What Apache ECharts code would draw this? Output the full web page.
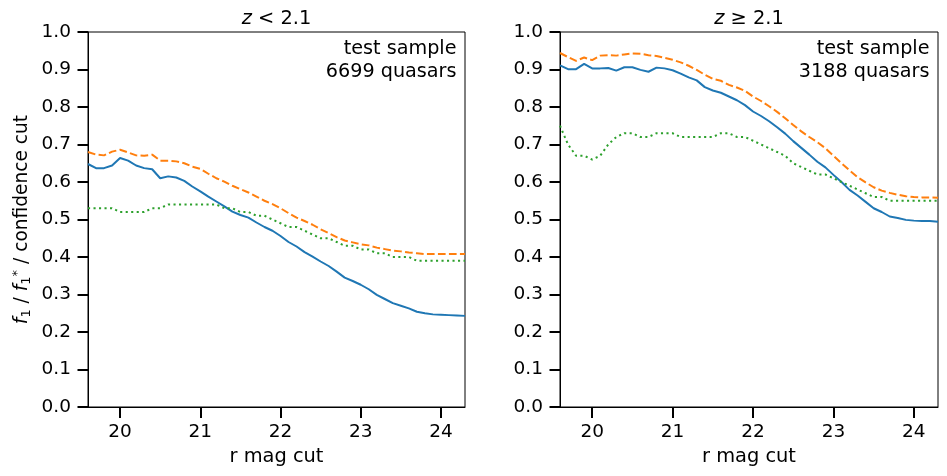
<!DOCTYPE html>
<html>
<head>
<meta charset="utf-8">
<script src="https://cdn.jsdelivr.net/npm/echarts@6/dist/echarts.min.js"></script>
<style>
html, body { margin: 0; padding: 0; background: #fff; }
#chart { width: 947px; height: 476px; }
</style>
</head>
<body>
<div id="chart"></div>
<script>
// r magnitude cut (x values, shared by both panels)
var rMag = [19.6, 19.7, 19.8, 19.9, 20.0, 20.1, 20.2, 20.3, 20.4, 20.5,
            20.6, 20.7, 20.8, 20.9, 21.0, 21.1, 21.2, 21.3, 21.4, 21.5,
            21.6, 21.7, 21.8, 21.9, 22.0, 22.1, 22.2, 22.3, 22.4, 22.5,
            22.6, 22.7, 22.8, 22.9, 23.0, 23.1, 23.2, 23.3, 23.4, 23.5,
            23.6, 23.7, 23.8, 23.9, 24.0, 24.1, 24.2, 24.3];

var xTicks = [20, 21, 22, 23, 24];

// z < 2.1
var lowF1 = [0.648, 0.637, 0.637, 0.644, 0.664, 0.657, 0.644, 0.637, 0.634, 0.610,
             0.615, 0.612, 0.603, 0.588, 0.575, 0.561, 0.548, 0.535, 0.521, 0.512,
             0.505, 0.492, 0.480, 0.470, 0.456, 0.440, 0.428, 0.413, 0.401, 0.388,
             0.376, 0.361, 0.345, 0.336, 0.326, 0.314, 0.299, 0.288, 0.277, 0.270,
             0.263, 0.254, 0.250, 0.247, 0.246, 0.245, 0.244, 0.243];
var lowF1Star = [0.680, 0.673, 0.671, 0.681, 0.686, 0.679, 0.671, 0.670, 0.673, 0.657,
                 0.657, 0.655, 0.650, 0.641, 0.635, 0.622, 0.610, 0.601, 0.590, 0.581,
                 0.572, 0.561, 0.550, 0.541, 0.530, 0.517, 0.505, 0.496, 0.486, 0.474,
                 0.464, 0.453, 0.444, 0.439, 0.434, 0.431, 0.425, 0.421, 0.417, 0.415,
                 0.412, 0.410, 0.408, 0.408, 0.408, 0.408, 0.408, 0.408];
var lowCut = [0.53, 0.53, 0.53, 0.53, 0.52, 0.52, 0.52, 0.52, 0.53, 0.53,
              0.54, 0.54, 0.54, 0.54, 0.54, 0.54, 0.54, 0.53, 0.53, 0.52,
              0.52, 0.51, 0.51, 0.50, 0.49, 0.48, 0.48, 0.47, 0.46, 0.45,
              0.45, 0.44, 0.43, 0.43, 0.42, 0.42, 0.41, 0.41, 0.40, 0.40,
              0.40, 0.39, 0.39, 0.39, 0.39, 0.39, 0.39, 0.39];

// z >= 2.1
var highF1 = [0.911, 0.901, 0.901, 0.915, 0.903, 0.903, 0.904, 0.897, 0.906, 0.906,
              0.899, 0.894, 0.905, 0.903, 0.898, 0.889, 0.879, 0.871, 0.853, 0.844,
              0.838, 0.828, 0.818, 0.805, 0.788, 0.776, 0.762, 0.746, 0.729, 0.709,
              0.691, 0.673, 0.654, 0.639, 0.619, 0.600, 0.579, 0.564, 0.547, 0.530,
              0.520, 0.508, 0.504, 0.499, 0.497, 0.496, 0.496, 0.494];
var highF1Star = [0.944, 0.933, 0.923, 0.932, 0.925, 0.937, 0.938, 0.937, 0.940, 0.943,
                  0.942, 0.938, 0.936, 0.931, 0.926, 0.919, 0.910, 0.899, 0.886, 0.875,
                  0.870, 0.859, 0.852, 0.843, 0.828, 0.816, 0.802, 0.787, 0.770, 0.752,
                  0.735, 0.720, 0.706, 0.690, 0.670, 0.650, 0.631, 0.613, 0.599, 0.586,
                  0.577, 0.571, 0.566, 0.562, 0.560, 0.559, 0.559, 0.558];
var highCut = [0.75, 0.70, 0.67, 0.67, 0.66, 0.67, 0.70, 0.72, 0.73, 0.73,
               0.72, 0.72, 0.73, 0.73, 0.73, 0.72, 0.72, 0.72, 0.72, 0.72,
               0.73, 0.73, 0.72, 0.72, 0.71, 0.70, 0.69, 0.68, 0.67, 0.65,
               0.64, 0.63, 0.62, 0.62, 0.61, 0.60, 0.59, 0.58, 0.57, 0.56,
               0.56, 0.55, 0.55, 0.55, 0.55, 0.55, 0.55, 0.55];

var panelTitles = ['{it|z}{n| < 2.1}', '{it|z}{n| \u2265 2.1}'];
var sampleNotes = ['test sample\n6699 quasars', 'test sample\n3188 quasars'];

var FONT = 'DejaVu Sans';
var TICK_FS = 18.5;
var LABEL_FS = 19.4;
var YLABEL_FS = 18.6;
var grids = [
  { left: 88, top: 32, width: 377, height: 375 },
  { left: 560, top: 32, width: 378, height: 375 }
];

function pairs(ys) {
  return rMag.map(function (x, i) { return [x, ys[i]]; });
}

function xAxisFor(i) {
  return {
    type: 'value', gridIndex: i, min: 19.6, max: 24.3,
    name: 'r mag cut', nameLocation: 'middle', nameGap: 40,
    nameTextStyle: { fontSize: LABEL_FS, color: '#000', fontFamily: FONT },
    axisLine: { show: true, onZero: false, lineStyle: { color: '#000', width: 1 } },
    axisTick: { show: true, length: 11, customValues: xTicks, lineStyle: { color: '#000', width: 2 } },
    axisLabel: { customValues: xTicks, fontSize: TICK_FS, color: '#000', fontFamily: FONT, margin: 16 },
    splitLine: { show: false }
  };
}

function yAxisFor(i) {
  var ax = {
    type: 'value', gridIndex: i, min: 0, max: 1, interval: 0.1,
    axisLine: { show: true, onZero: false, lineStyle: { color: '#000', width: 1 } },
    axisTick: { show: true, length: 10.5, lineStyle: { color: '#000', width: 2 } },
    axisLabel: {
      fontSize: TICK_FS, color: '#000', fontFamily: FONT, margin: 17,
      formatter: function (v) { return v.toFixed(1); }
    },
    splitLine: { show: false }
  };
  if (i === 0) {
    ax.name = '{it|f}{sub|1}{n| / }{it|f}{sub|1}{sup|*}{n| / confidence cut}';
    ax.nameLocation = 'middle';
    ax.nameRotate = 90;
    ax.nameGap = 55;
    ax.nameTextStyle = {
      fontSize: YLABEL_FS, color: '#000', fontFamily: FONT, lineHeight: 22,
      rich: {
        n: { fontSize: YLABEL_FS, fontFamily: FONT, color: '#000', lineHeight: 22 },
        it: { fontStyle: 'italic', fontSize: YLABEL_FS, fontFamily: FONT, color: '#000', lineHeight: 22 },
        sub: { fontSize: 13, fontFamily: FONT, color: '#000', lineHeight: 15, verticalAlign: 'bottom' },
        sup: { fontSize: 13, fontFamily: FONT, color: '#000', lineHeight: 15, verticalAlign: 'top' }
      }
    };
  }
  return ax;
}

function lineSeries(i, ys, color, dash) {
  return {
    type: 'line', xAxisIndex: i, yAxisIndex: i,
    data: pairs(ys), showSymbol: false, symbol: 'none',
    animation: false,
    lineStyle: { color: color, width: 2, type: dash }
  };
}

var graphics = [];
grids.forEach(function (g, i) {
  graphics.push({
    type: 'text',
    x: g.left + g.width / 2, y: 18.6,
    style: {
      text: panelTitles[i], align: 'center', verticalAlign: 'middle',
      font: LABEL_FS + 'px ' + FONT, fill: '#000',
      rich: {
        it: { font: 'italic ' + LABEL_FS + 'px ' + FONT, fill: '#000' },
        n: { font: LABEL_FS + 'px ' + FONT, fill: '#000' }
      }
    }
  });
  graphics.push({
    type: 'text',
    x: g.left + g.width - 8.5, y: 37.5,
    style: {
      text: sampleNotes[i], align: 'right', verticalAlign: 'top',
      font: '19.2px ' + FONT, lineHeight: 23.3, fill: '#000'
    }
  });
});

var chart = echarts.init(document.getElementById('chart'), null, { renderer: 'canvas' });
chart.setOption({
  animation: false,
  backgroundColor: '#fff',
  textStyle: { fontFamily: FONT },
  grid: grids.map(function (g) {
    return { left: g.left, top: g.top, width: g.width, height: g.height,
             show: true, borderColor: '#000', borderWidth: 1, backgroundColor: 'transparent' };
  }),
  xAxis: [xAxisFor(0), xAxisFor(1)],
  yAxis: [yAxisFor(0), yAxisFor(1)],
  series: [
    lineSeries(0, lowF1, '#1f77b4', 'solid'),
    lineSeries(0, lowF1Star, '#ff7f0e', [7.7, 3.3]),
    lineSeries(0, lowCut, '#2ca02c', [2.1, 3.4]),
    lineSeries(1, highF1, '#1f77b4', 'solid'),
    lineSeries(1, highF1Star, '#ff7f0e', [7.7, 3.3]),
    lineSeries(1, highCut, '#2ca02c', [2.1, 3.4])
  ],
  graphic: graphics
});
</script>
</body>
</html>
